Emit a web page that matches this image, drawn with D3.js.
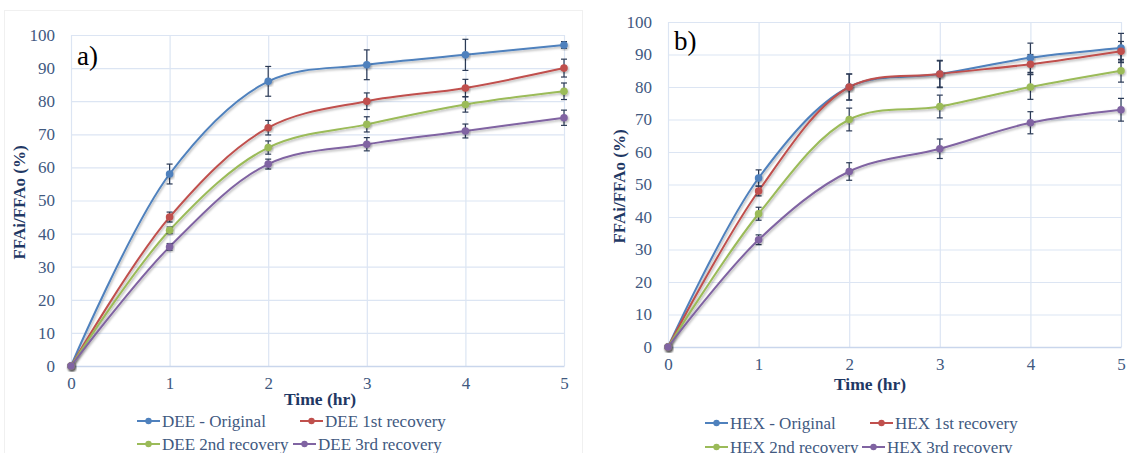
<!DOCTYPE html>
<html>
<head>
<meta charset="utf-8">
<script src="https://cdn.jsdelivr.net/npm/d3@7"></script>
<style>
  body { margin: 0; background: #fff; }
  svg { display: block; font-family: "Liberation Serif", "Times New Roman", serif; }
</style>
</head>
<body>
<div id="chart"></div>
<script>
const hours = [0, 1, 2, 3, 4, 5];
const yTickValues = [0, 10, 20, 30, 40, 50, 60, 70, 80, 90, 100];

// DEE panel (a)
const deeNames = ["DEE - Original", "DEE 1st recovery", "DEE 2nd recovery", "DEE 3rd recovery"];
const deeOriginal = [0, 58, 86, 91, 94, 97];
const deeOriginalErr = [0, 3, 4.5, 4.5, 4.7, 1];
const dee1st = [0, 45, 72, 80, 84, 90];
const dee1stErr = [0, 1.5, 2.2, 2.5, 2.6, 2.7];
const dee2nd = [0, 41, 66, 73, 79, 83];
const dee2ndErr = [0, 1, 2, 2.3, 2.3, 2.5];
const dee3rd = [0, 36, 61, 67, 71, 75];
const dee3rdErr = [0, 1, 1.5, 2, 2.1, 2.3];

// HEX panel (b)
const hexNames = ["HEX - Original", "HEX 1st recovery", "HEX 2nd recovery", "HEX 3rd recovery"];
const hexOriginal = [0, 52, 80, 84, 89, 92];
const hexOriginalErr = [0, 2.5, 4, 4.2, 4.5, 4.5];
const hex1st = [0, 48, 80, 84, 87, 91];
const hex1stErr = [0, 1.5, 4, 4, 3, 3];
const hex2nd = [0, 41, 70, 74, 80, 85];
const hex2ndErr = [0, 2, 3.5, 3.5, 3.8, 3.5];
const hex3rd = [0, 33, 54, 61, 69, 73];
const hex3rdErr = [0, 1.5, 2.7, 3, 3.4, 3.5];

const colors = ["#4F81BD", "#C0504D", "#9BBB59", "#8064A2"];
const tickColor = "#41597F";
const titleColor = "#1F3864";
const gridColor = "#DCE5F3";
const errColor = "#2B3A55";
const fontSerif = "Liberation Serif";

const width = 1127, height = 453;

const svg = d3.select("#chart").append("svg")
    .attr("width", width)
    .attr("height", height);

const defs = svg.append("defs");
defs.append("filter")
    .attr("id", "shadow")
    .attr("x", "-20%").attr("y", "-20%")
    .attr("width", "140%").attr("height", "140%")
  .append("feDropShadow")
    .attr("dx", 1).attr("dy", 1.5)
    .attr("stdDeviation", 1)
    .attr("flood-color", "#000")
    .attr("flood-opacity", 0.3);

// faint outer border of the left chart
svg.append("rect")
    .attr("x", 4.5).attr("y", 10.5)
    .attr("width", 578).attr("height", 460)
    .attr("fill", "none")
    .attr("stroke", "#F0F0F0");

const panels = [
    {
        label: "a)",
        names: deeNames,
        series: [deeOriginal, dee1st, dee2nd, dee3rd],
        errors: [deeOriginalErr, dee1stErr, dee2ndErr, dee3rdErr],
        left: 71, right: 564, top: 35, bottom: 366,
        yTitleX: 19, xTitleY: 405, xTitleX: 320, labelX: 77, labelY: 65,
        legendY: [421, 444],
        legendCols: [[137, 300], [137, 293]]
    },
    {
        label: "b)",
        names: hexNames,
        series: [hexOriginal, hex1st, hex2nd, hex3rd],
        errors: [hexOriginalErr, hex1stErr, hex2ndErr, hex3rdErr],
        left: 668, right: 1121, top: 22, bottom: 347,
        yTitleX: 619, xTitleY: 390, xTitleX: 870, labelX: 674, labelY: 50,
        legendY: [423, 447],
        legendCols: [[705, 870], [705, 862]]
    }
];

panels.forEach(p => {
    const g = svg.append("g");

    const x = d3.scaleLinear().domain([0, 5]).range([p.left, p.right]);
    const y = d3.scaleLinear().domain([0, 100]).range([p.bottom, p.top]);

    // gridlines
    g.append("g").selectAll("line.h")
        .data(yTickValues)
        .join("line")
        .attr("x1", p.left).attr("x2", p.right)
        .attr("y1", d => y(d) + 0.5).attr("y2", d => y(d) + 0.5)
        .attr("stroke", gridColor)
        .attr("stroke-width", 1.2);

    g.append("g").selectAll("line.v")
        .data(hours)
        .join("line")
        .attr("x1", d => x(d) + 0.5).attr("x2", d => x(d) + 0.5)
        .attr("y1", p.top).attr("y2", p.bottom)
        .attr("stroke", gridColor)
        .attr("stroke-width", 1.2);

    // axes
    const yAxis = g.append("g")
        .attr("transform", `translate(${p.left},0)`)
        .call(d3.axisLeft(y).tickValues(yTickValues).tickSize(0).tickPadding(16));
    yAxis.attr("font-family", fontSerif);
    yAxis.select(".domain").remove();
    yAxis.selectAll("text")
        .attr("fill", tickColor)
        .attr("font-size", "17px");

    const xAxis = g.append("g")
        .attr("transform", `translate(0,${p.bottom})`)
        .call(d3.axisBottom(x).tickValues(hours).tickFormat(d3.format("d")).tickSize(0).tickPadding(11));
    xAxis.attr("font-family", fontSerif);
    xAxis.select(".domain").attr("stroke", "#C9D6EC").attr("stroke-width", 1.5);
    xAxis.selectAll("text")
        .attr("fill", tickColor)
        .attr("font-size", "17px");

    // axis titles
    g.append("text")
        .attr("transform", `translate(${p.yTitleX},${(p.top + p.bottom) / 2 + 2}) rotate(-90)`)
        .attr("text-anchor", "middle")
        .attr("dy", "0.35em")
        .attr("font-size", "17px")
        .attr("font-weight", "bold")
        .attr("fill", titleColor)
        .text("FFAi/FFAo (%)");

    g.append("text")
        .attr("x", p.xTitleX)
        .attr("y", p.xTitleY)
        .attr("text-anchor", "middle")
        .attr("font-size", "17.5px")
        .attr("font-weight", "bold")
        .attr("fill", titleColor)
        .text("Time (hr)");

    // panel label
    g.append("text")
        .attr("x", p.labelX)
        .attr("y", p.labelY)
        .attr("font-size", "27px")
        .attr("fill", "#000")
        .text(p.label);

    const line = d3.line()
        .x((d, i) => x(hours[i]))
        .y(d => y(d))
        .curve(d3.curveCatmullRom.alpha(0.5));

    // lines
    p.series.forEach((s, si) => {
        g.append("path")
            .datum(s)
            .attr("d", line)
            .attr("fill", "none")
            .attr("stroke", colors[si])
            .attr("stroke-width", 2)
            .attr("filter", "url(#shadow)");
    });

    // error bars
    p.series.forEach((s, si) => {
        const eg = g.append("g");
        const pts = s.map((v, i) => ({ x: hours[i], v: v, e: p.errors[si][i] })).filter(d => d.e > 0);
        eg.selectAll("line.stem").data(pts).join("line")
            .attr("x1", d => x(d.x)).attr("x2", d => x(d.x))
            .attr("y1", d => y(d.v - d.e)).attr("y2", d => y(d.v + d.e))
            .attr("stroke", errColor).attr("stroke-width", 1.2);
        eg.selectAll("line.capt").data(pts).join("line")
            .attr("x1", d => x(d.x) - 3).attr("x2", d => x(d.x) + 3)
            .attr("y1", d => y(d.v + d.e)).attr("y2", d => y(d.v + d.e))
            .attr("stroke", errColor).attr("stroke-width", 1.2);
        eg.selectAll("line.capb").data(pts).join("line")
            .attr("x1", d => x(d.x) - 3).attr("x2", d => x(d.x) + 3)
            .attr("y1", d => y(d.v - d.e)).attr("y2", d => y(d.v - d.e))
            .attr("stroke", errColor).attr("stroke-width", 1.2);
    });

    // markers
    p.series.forEach((s, si) => {
        g.append("g").selectAll("circle")
            .data(s)
            .join("circle")
            .attr("cx", (d, i) => x(hours[i]))
            .attr("cy", d => y(d))
            .attr("r", 3.8)
            .attr("fill", colors[si])
            .attr("filter", "url(#shadow)");
    });

    // legend
    const legendItems = p.names.map((n, i) => ({
        name: n,
        color: colors[i],
        lx: p.legendCols[Math.floor(i / 2)][i % 2],
        ly: p.legendY[Math.floor(i / 2)]
    }));
    const lg = g.append("g").selectAll("g").data(legendItems).join("g")
        .attr("transform", d => `translate(${d.lx},${d.ly})`);
    lg.append("line")
        .attr("x1", 0).attr("x2", 23)
        .attr("stroke", d => d.color).attr("stroke-width", 2);
    lg.append("circle")
        .attr("cx", 11.5).attr("r", 3.2)
        .attr("fill", d => d.color);
    lg.append("text")
        .attr("x", 25)
        .attr("dy", "0.35em")
        .attr("font-size", "17px")
        .attr("fill", tickColor)
        .text(d => d.name);
});
</script>
</body>
</html>
